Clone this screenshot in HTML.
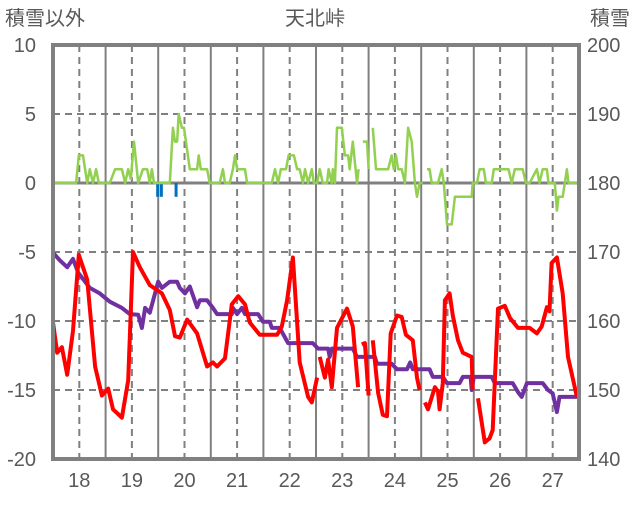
<!DOCTYPE html>
<html><head><meta charset="utf-8"><style>
body{margin:0;background:#fff;width:636px;height:501px;overflow:hidden}
svg text{font-family:"Liberation Sans","Noto Sans CJK JP",sans-serif;fill:#595959}
</style></head><body>
<svg id="c" width="636" height="501"></svg>
<script>
const dayTicks=[18,19,20,21,22,23,24,25,26,27];
const leftTicks=[10,5,0,-5,-10,-15,-20];
const rightTicks=[200,190,180,170,160,150,140];
const redT=[17.50,17.58,17.67,17.77,17.88,17.99,18.15,18.30,18.43,18.55,18.64,18.81,18.93,19.02,19.15,19.34,19.57,19.72,19.82,19.91,20.05,20.24,20.43,20.54,20.62,20.77,20.90,21.02,21.15,21.24,21.43,21.76,21.85,21.95,22.06,22.19,22.35,22.42,22.52,null,22.57,22.67,22.73,22.80,22.90,23.09,23.20,23.30,null,23.37,23.43,23.50,null,23.58,23.68,23.77,23.85,23.92,24.04,24.13,24.21,24.34,24.42,24.47,null,24.57,24.63,24.76,24.82,24.85,24.91,24.95,25.04,25.10,25.20,25.29,25.46,25.48,null,25.58,25.71,25.80,25.86,25.96,26.09,26.19,26.34,26.56,26.70,26.79,26.89,26.94,26.98,27.08,27.19,27.29,27.46];
const redV=[-10.1,-12.3,-11.9,-13.9,-10.7,-5.2,-7,-13.3,-15.4,-14.9,-16.4,-17,-14.3,-5,-6.1,-7.4,-8,-9.2,-11.1,-11.2,-9.9,-10.9,-13.3,-13,-13.3,-12.7,-8.8,-8.2,-8.8,-10.1,-11,-11,-10.4,-8.5,-5.4,-13,-15.5,-15.9,-14.1,null,-12.6,-14.1,-12.8,-14.8,-10.5,-9.1,-10.4,-14.8,null,-11.7,-11.6,-15.4,null,-11.4,-15.2,-16.8,-16.9,-10.9,-9.6,-9.7,-11,-11.4,-14.1,-15,null,-15.9,-16.4,-14.8,-15.1,-16.4,-14.5,-8.5,-8,-9.6,-11.4,-12.3,-12.6,-15,null,-15.6,-18.8,-18.5,-17.9,-9.1,-8.9,-9.8,-10.5,-10.5,-10.9,-10.4,-9,-9.3,-5.8,-5.4,-8,-12.6,-15.5];
const snowT=[17.50,17.63,17.77,17.88,17.98,18.20,18.39,18.58,18.81,18.96,19.12,19.19,19.25,19.34,19.50,19.57,19.72,19.86,19.91,20.01,20.10,20.24,20.29,20.43,20.54,20.62,20.90,20.92,21.00,21.09,21.15,21.40,21.49,21.62,21.66,21.81,21.97,22.44,22.54,22.73,22.76,22.80,23.20,23.28,23.62,23.66,23.94,24.04,24.23,24.29,24.34,24.66,24.72,24.91,24.99,25.23,25.29,25.44,25.46,25.50,25.84,25.90,26.24,26.34,26.41,26.51,26.70,26.81,26.91,27.00,27.08,27.13,27.48];
const snowV=[169.9,168.8,167.8,169,167,164.8,164,162.8,161.9,161,160.9,159,161.9,161.2,165.7,164.8,165.7,165.7,164.8,164,165,162,163,163,161.9,161,161,161.9,161,161.9,161,161,159.9,159.9,159,159,156.8,156.8,156,156,154.8,156,156,154.8,154.8,153.8,153.8,153,153,154,153,153,151.9,151.9,151,151,151.9,151.9,150,151.9,151.9,151,151,149.7,149,151,151,151,150,149.5,146.8,149,149];
const greenT=[17.50,17.94,17.99,18.07,18.15,18.20,18.26,18.32,18.37,18.58,18.68,18.81,18.87,18.93,18.98,19.04,19.12,19.21,19.29,19.34,19.38,19.42,19.72,19.78,19.82,19.86,19.89,19.95,19.99,20.10,20.24,20.27,20.31,20.43,20.48,20.67,20.73,20.77,20.86,20.92,20.96,21.00,21.15,21.19,21.66,21.72,21.78,21.83,21.93,21.98,22.08,22.14,22.19,22.25,22.29,22.35,22.42,22.46,22.52,22.57,22.63,22.71,22.74,22.80,22.82,22.86,22.90,22.99,23.05,23.11,23.14,23.20,23.28,23.31,null,23.39,23.47,23.50,null,23.58,23.64,23.87,23.94,23.98,24.02,24.06,24.13,24.19,24.25,24.32,24.38,24.42,24.47,24.53,null,24.61,24.66,24.70,24.82,24.89,24.93,24.99,25.08,25.14,25.46,25.48,25.56,25.61,25.69,25.73,25.84,25.88,26.16,26.22,26.28,26.43,26.49,26.56,26.70,26.75,26.81,26.89,26.92,27.04,27.08,27.11,27.19,27.27,27.30,27.46];
const greenV=[0,0,2,2,0,1,0,1,0,0,1,1,0,1,0.3,3,0,1,1,0,1,0,0,4,3,3,5,4,4,1,1,2,1,1,0,0,1,0,0,1,2,1,1,0,0,1,0,1,1,2,2,1,1,0,1,0,1,0,0,1,0,0,1,0,1,0,4,4,2,2,1,3,0,1,null,3,3,1,null,4,1,1,2,1,2,1,1,0,4,3,0,-1,0,0,null,1,1,0,0,1,0,-3,-3,-1,-1,0,0,1,1,0,0,1,1,0,1,1,0,0,1,0,1,1,0,0,-2,-1,-1,1,0,0];
const precipT=[19.49,19.56,19.84];
const precipV=[-1,-1,-1];

const L=53,R=579,T=45,B=459;
const x=d=>L+(d-17.5)/10*(R-L);
const yl=v=>B-(v+20)/30*(B-T);
const yr=v=>B-(v-140)/60*(B-T);
const svg=document.getElementById('c');
const NS='http://www.w3.org/2000/svg';
function mk(tag,attrs,parent){const e=document.createElementNS(NS,tag);for(const k in attrs)e.setAttribute(k,attrs[k]);(parent||svg).appendChild(e);return e;}

leftTicks.forEach(v=>{
  const ln=mk('line',{x1:L,x2:R,y1:yl(v),y2:yl(v),stroke:'#808080','stroke-width':v===0?3:2,'stroke-dasharray':v===0?'none':'7,5'});
  
  
});
for(let d=18.5;d<27.5;d+=1){
  const ln=mk('line',{x1:x(d),x2:x(d),y1:T,y2:B,stroke:'#808080','stroke-width':2});
  
  
}
dayTicks.forEach(d=>{
  const ln=mk('line',{x1:x(d),x2:x(d),y1:T,y2:B,stroke:'#808080','stroke-width':2,'stroke-dasharray':'7,5'});
  
  
  const t=mk('text',{x:x(d),y:487,'font-size':20,'text-anchor':'middle'});
  t.textContent=d;
  
  
});
leftTicks.forEach(v=>{
  const t=mk('text',{x:36,y:yl(v)+7,'font-size':20,'text-anchor':'end'});
  t.textContent=v;
  
  
});
rightTicks.forEach(v=>{
  const t=mk('text',{x:587,y:yr(v)+7,'font-size':20,'text-anchor':'start'});
  t.textContent=v;
  
  
});

function path(ts,vs,yf){let d='',pen=false;ts.forEach((t,i)=>{if(t===null||vs[i]===null){pen=false;return;}d+=(pen?'L':'M')+x(t).toFixed(1)+','+yf(vs[i]).toFixed(1);pen=true;});return d;}

precipT.forEach((t,i)=>{
  const r=mk('rect',{x:x(t)-1.5,y:yl(0),width:3,height:yl(precipV[i])-yl(0),fill:'#0070c0'});
  
  
});
const g=mk('path',{d:path(greenT,greenV,yl),fill:'none',stroke:'#92d050','stroke-width':2.5,'stroke-linejoin':'round'});


const s=mk('path',{d:path(snowT,snowV,yr),fill:'none',stroke:'#7030a0','stroke-width':4,'stroke-linejoin':'round'});


const r=mk('path',{d:path(redT,redV,yl),fill:'none',stroke:'#ff0000','stroke-width':4,'stroke-linejoin':'round'});



const f=mk('rect',{x:L,y:T,width:R-L,height:B-T,fill:'none',stroke:'#808080','stroke-width':4});



[[5,25,'start','積雪以外','left-axis-title'],[315,25,'middle','天北峠','chart-title'],[630,25,'end','積雪','right-axis-title']].forEach(a=>{
  const t=mk('text',{x:a[0],y:a[1],'font-size':20,'text-anchor':a[2]});
  t.textContent=a[3];
  
  
});
</script>
</body></html>
